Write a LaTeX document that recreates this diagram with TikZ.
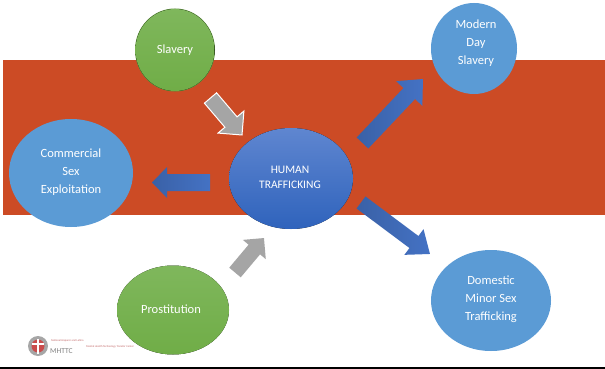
\documentclass[tikz,border=0pt]{standalone}
\usepackage{fontspec}
\setmainfont{Carlito}
\usetikzlibrary{calc}
\definecolor{brickred}{HTML}{CC4B25}
\definecolor{skyb}{HTML}{5B9BD5}
\definecolor{leaf}{HTML}{70AD47}
\definecolor{leaftop}{HTML}{7FB75C}
\definecolor{deepb}{HTML}{2F63BC}
\definecolor{topb}{HTML}{5F86D0}
\definecolor{arrowb}{HTML}{4472C4}
\definecolor{greyarrow}{HTML}{A5A5A5}
% #1 tail, #2 tip, #3 half shaft, #4 half head, #5 head length, #6 style
\newcommand{\blockarrow}[6]{%
  \path[#6] let \p1=($(#2)-(#1)$), \n1={veclen(\x1,\y1)}, \n2={atan2(\y1,\x1)} in
    [shift={(#1)},rotate=\n2]
    (0,-#3) -- ({\n1-#5},-#3) -- ({\n1-#5},-#4) -- (\n1,0) -- ({\n1-#5},#4) -- ({\n1-#5},#3) -- (0,#3) -- cycle;}
\tikzset{
  x=1pt,y=-1pt,
  label text/.style={text=white,font=\fontsize{12.5}{18}\selectfont,align=center},
  bubble/.style={ellipse node/.style={}},
  bluearrow/.style={left color=arrowb!85!black,right color=arrowb,draw=none},
  greyblock/.style={fill=greyarrow,draw=none},
  outlined/.style={fill=greyarrow,draw=white,line width=1pt},
}
\begin{document}
\begin{tikzpicture}[x=1pt,y=-1pt]
\useasboundingbox (0,0) rectangle (605,369);
\fill[white] (0,0) rectangle (605,369);
\fill[black] (0,367) rectangle (605,369);
\fill[brickred] (3,60) rectangle (605,215);
% logo
\fill[gray!70] (38,346) circle (10);
\fill[red!70!black!70] (38,346) circle (6.5);
\fill[white] (37,339) rectangle (39,354);
\fill[white] (32,343) rectangle (44,345);
\node[text=gray,font=\fontsize{7.5}{8}\selectfont,anchor=west,inner sep=0pt] (logo) at (50,351) {MHTTC};
\node[text=red!60!black!60,font=\fontsize{2.8}{3}\selectfont,anchor=west,inner sep=0pt] (logoa) at (51,341) {National Hispanic and Latino};
\node[text=red!60!black!60,font=\fontsize{2.8}{3}\selectfont,anchor=west,inner sep=0pt] (logob) at (86,347) {Mental Health Technology Transfer Center};
% ellipses
\fill[leaf!85!black] (175,50) ellipse [x radius=40,y radius=41.5];
\fill[top color=leaftop,bottom color=leaf] (175,50) ellipse [x radius=39.5,y radius=41];
\node[label text] (slavery) at (175,50) {Slavery};
\fill[skyb] (474,48.5) ellipse [x radius=43,y radius=45.5];
\node[label text] (modern) at (476,43) {Modern\\Day\\Slavery};
\fill[skyb] (71,173) ellipse [x radius=62,y radius=54];
\node[label text] (commercial) at (71,172) {Commercial\\Sex\\Exploitation};
\fill[top color=topb,bottom color=deepb] (291,178.5) ellipse [x radius=62,y radius=50.5];
\node[label text,font=\fontsize{11.5}{15}\selectfont] (human) at (290,177) {HUMAN\\TRAFFICKING};
\fill[skyb] (491,300.5) ellipse [x radius=60,y radius=50.5];
\node[label text] (domestic) at (491,299) {Domestic\\Minor Sex\\Trafficking};
\fill[top color=leaftop,bottom color=leaf] (173,310) ellipse [x radius=56,y radius=44.5];
\node[label text] (prost) at (171,309) {Prostitution};
% arrows
\coordinate (t1) at (210.5,98); \coordinate (h1) at (242,135);
\coordinate (t2) at (210,182.5); \coordinate (h2) at (152,182.5);
\coordinate (t3) at (362.5,143); \coordinate (h3) at (423,79);
\coordinate (t4) at (361,202.5); \coordinate (h4) at (430,254);
\coordinate (t5) at (235,272.5); \coordinate (h5) at (264,238);
\blockarrow{t1}{h1}{8}{17}{17}{outlined}
\blockarrow{t2}{h2}{8.5}{15.5}{15}{bluearrow}
\blockarrow{t3}{h3}{8}{18}{20}{bluearrow}
\blockarrow{t4}{h4}{7.5}{16}{20}{bluearrow}
\blockarrow{t5}{h5}{7.5}{15}{15}{greyblock}
\end{tikzpicture}
\end{document}
